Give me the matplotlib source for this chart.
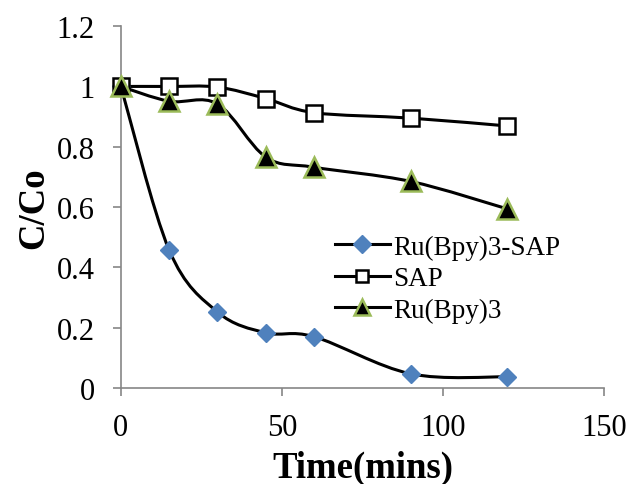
import matplotlib
matplotlib.use("Agg")
import matplotlib.pyplot as plt
from matplotlib.path import Path
from matplotlib.patches import PathPatch
from matplotlib.lines import Line2D

time_min = [0, 15, 30, 45, 60, 90, 120]
ru_sap = [1.0, 0.457, 0.252, 0.183, 0.17, 0.047, 0.037]
sap = [1.0, 1.0, 0.998, 0.96, 0.913, 0.895, 0.869]
ru_bpy = [1.0, 0.951, 0.942, 0.766, 0.732, 0.685, 0.594]

plt.rcParams["font.family"] = ["Liberation Serif", "DejaVu Serif"]


def smooth_path(xs, ys):
    # Excel-style smoothed line: Catmull-Rom converted to cubic Beziers
    pts = list(zip(xs, ys))
    verts = [pts[0]]
    codes = [Path.MOVETO]
    n = len(pts)
    for i in range(n - 1):
        p0 = pts[i - 1] if i > 0 else pts[i]
        p1, p2 = pts[i], pts[i + 1]
        p3 = pts[i + 2] if i + 2 < n else pts[i + 1]
        c1 = (p1[0] + (p2[0] - p0[0]) / 6, p1[1] + (p2[1] - p0[1]) / 6)
        c2 = (p2[0] - (p3[0] - p1[0]) / 6, p2[1] - (p3[1] - p1[1]) / 6)
        verts += [c1, c2, p2]
        codes += [Path.CURVE4] * 3
    return Path(verts, codes)


fig = plt.figure(figsize=(6.33, 4.85), dpi=100)
ax = fig.add_axes([0.191, 0.198, 0.763, 0.746])

series = [
    ("Ru(Bpy)3-SAP", ru_sap,
     dict(marker="D", markerfacecolor="#4F81BD", markeredgecolor="#4F81BD"), 9, 9),
    ("SAP", sap,
     dict(marker="s", markerfacecolor="white", markeredgecolor="black",
          markeredgewidth=1.8), 11, 8.5),
    ("Ru(Bpy)3", ru_bpy,
     dict(marker="^", markerfacecolor="black", markeredgecolor="#9BBB59",
          markeredgewidth=1.8), 14, 12),
]

handles = []
for label, ys, style, ms, legend_ms in series:
    ax.add_patch(PathPatch(smooth_path(time_min, ys), facecolor="none",
                           edgecolor="black", lw=2.2, zorder=2))
    ax.plot(time_min, ys, linestyle="none", markersize=ms, zorder=3,
            clip_on=False, **style)
    handles.append(Line2D([], [], color="black", lw=2.2, label=label,
                          markersize=legend_ms, **style))

ax.set_xlim(0, 150)
ax.set_ylim(0, 1.2)
ax.set_xticks([0, 50, 100, 150])
ax.set_yticks([0, 0.2, 0.4, 0.6, 0.8, 1.0, 1.2])
ax.set_yticklabels(["0", "0.2", "0.4", "0.6", "0.8", "1", "1.2"])
for side in ("top", "right"):
    ax.spines[side].set_visible(False)
for side in ("left", "bottom"):
    ax.spines[side].set_color("#868686")
    ax.spines[side].set_linewidth(1.2)
ax.tick_params(direction="out", length=6, width=1.2, color="#868686",
               labelsize=22)
ax.tick_params(axis="x", pad=12)
ax.tick_params(axis="y", pad=13)
ax.set_xlabel("Time(mins)", fontsize=26.5, fontweight="bold", labelpad=6)
ax.set_ylabel("C/Co", fontsize=26.5, fontweight="bold", labelpad=4)

ax.legend(handles=handles, loc="center left", bbox_to_anchor=(0.444, 0.302),
          frameon=False, fontsize=19.5, handlelength=2.0, handletextpad=0.15,
          labelspacing=0.24, borderaxespad=0, borderpad=0)

fig.savefig("out.png", dpi=100)
